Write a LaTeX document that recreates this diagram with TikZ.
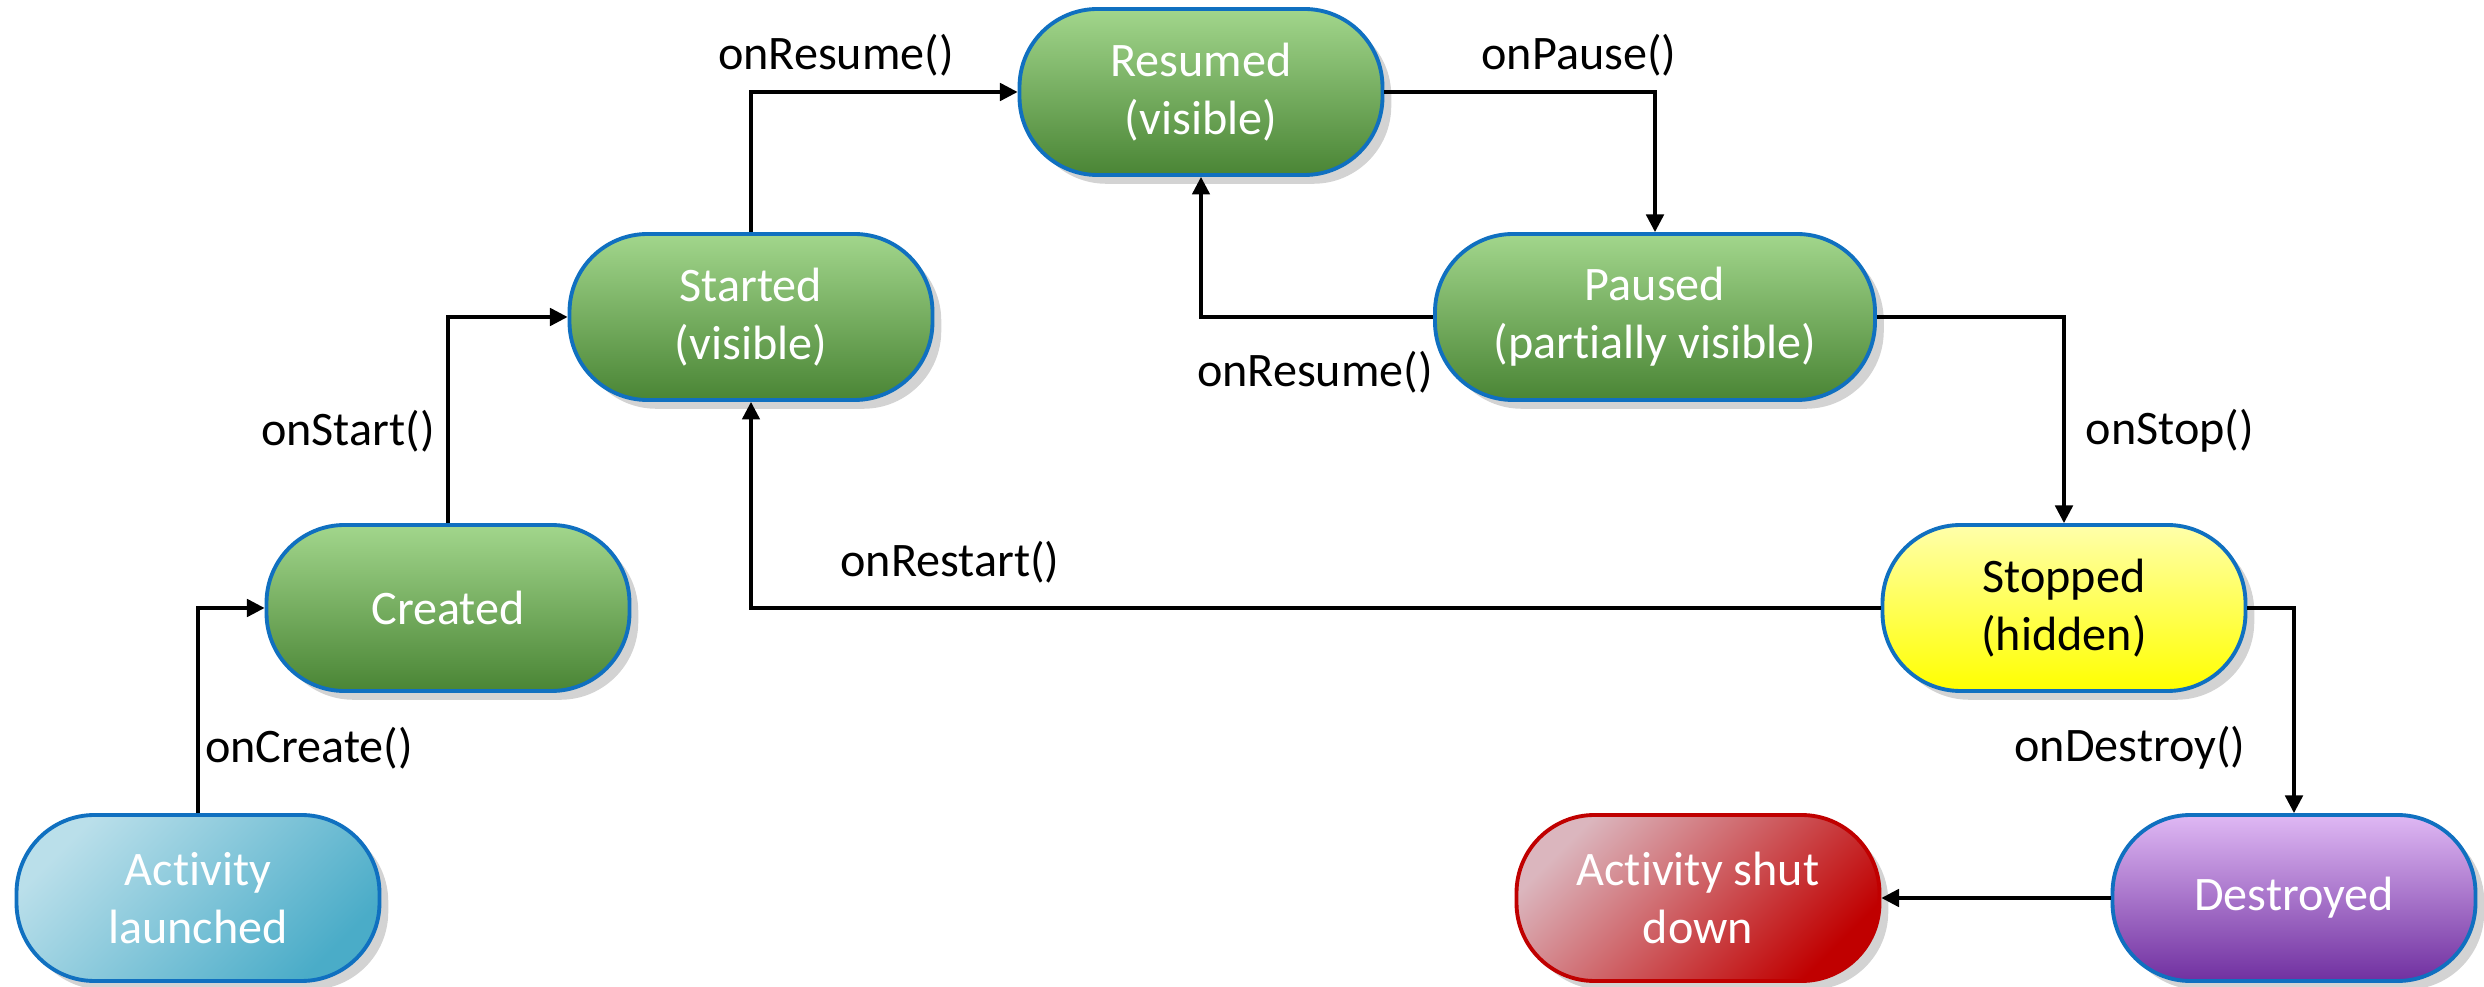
\documentclass[tikz,border=0pt]{standalone}
\usepackage{fontspec}
\setmainfont[Ligatures=NoCommon]{Carlito}
\usetikzlibrary{arrows.meta,shadows}
\definecolor{edgeblue}{HTML}{1070C0}
\definecolor{grtop}{HTML}{A2D68C}
\definecolor{grmid}{HTML}{6BB846}
\definecolor{grbot}{HTML}{4A8535}
\definecolor{lbtop}{HTML}{BADFEA}
\definecolor{lbbot}{HTML}{4AACC8}
\definecolor{rdtop}{HTML}{DBB6BE}
\definecolor{rdbot}{HTML}{C00000}
\definecolor{pptop}{HTML}{DFB8F4}
\definecolor{ppbot}{HTML}{7030A0}
\definecolor{ywtop}{HTML}{FFFFAA}
\definecolor{ywbot}{HTML}{FFFF00}
\begin{document}
\begin{tikzpicture}[font=\fontsize{13.7}{16.5}\selectfont,
	state/.style={rectangle,rounded corners=0.78cm,draw=edgeblue,line width=1.1pt,
		minimum width=3.63cm,minimum height=1.66cm,align=center,text=white,
		drop shadow={shadow xshift=2.5pt,shadow yshift=-2.5pt,opacity=0.35}},
	green/.style={state,top color=grtop,middle color=grmid,bottom color=grbot},
	lbl/.style={text=black,inner sep=1pt},
	trans/.style={line width=0.9pt,-{Triangle[length=5pt,width=5pt]}}]
\useasboundingbox (0,0) rectangle (24.84,9.87);
% states
\node[state,top color=lbtop,bottom color=lbbot,shading angle=45] (launched) at (1.98,0.89) {Activity\\launched};
\node[green] (created) at (4.48,3.79) {Created};
\node[green] (started) at (7.51,6.70) {Started\\(visible)};
\node[green] (resumed) at (12.01,8.95) {Resumed\\(visible)};
\node[green,minimum width=4.40cm] (paused) at (16.55,6.70) {Paused\\(partially visible)};
\node[state,text=black,top color=ywtop,bottom color=ywbot] (stopped) at (20.64,3.79) {Stopped\\(hidden)};
\node[state,top color=pptop,bottom color=ppbot] (destroyed) at (22.94,0.89) {Destroyed};
\node[state,draw=rdbot,top color=rdtop,bottom color=rdbot,shading angle=45] (shutdown) at (16.98,0.89) {Activity shut\\down};
% transitions
\draw[trans] (launched.north) |- (created.west);
\draw[trans] (created.north) |- (started.west);
\draw[trans] (started.north) |- (resumed.west);
\draw[trans] (resumed.east) -| (paused.north);
\draw[trans] (paused.west) -| (resumed.south);
\draw[trans] (paused.east) -| (stopped.north);
\draw[trans] (stopped.west) -| (started.south);
\draw[trans] (stopped.east) -| (destroyed.north);
\draw[trans] (destroyed.west) -- (shutdown.east);
% labels
\node[lbl] (lcreate) at (3.09,2.39) {onCreate()};
\node[lbl] (lstart) at (3.48,5.56) {onStart()};
\node[lbl] (lresume) at (8.36,9.32) {onResume()};
\node[lbl] (lpause) at (15.79,9.32) {onPause()};
\node[lbl] (lresume2) at (13.15,6.15) {onResume()};
\node[lbl] (lstop) at (21.70,5.56) {onStop()};
\node[lbl] (lrestart) at (9.50,4.25) {onRestart()};
\node[lbl] (ldestroy) at (21.30,2.39) {onDestroy()};
\end{tikzpicture}
\end{document}
